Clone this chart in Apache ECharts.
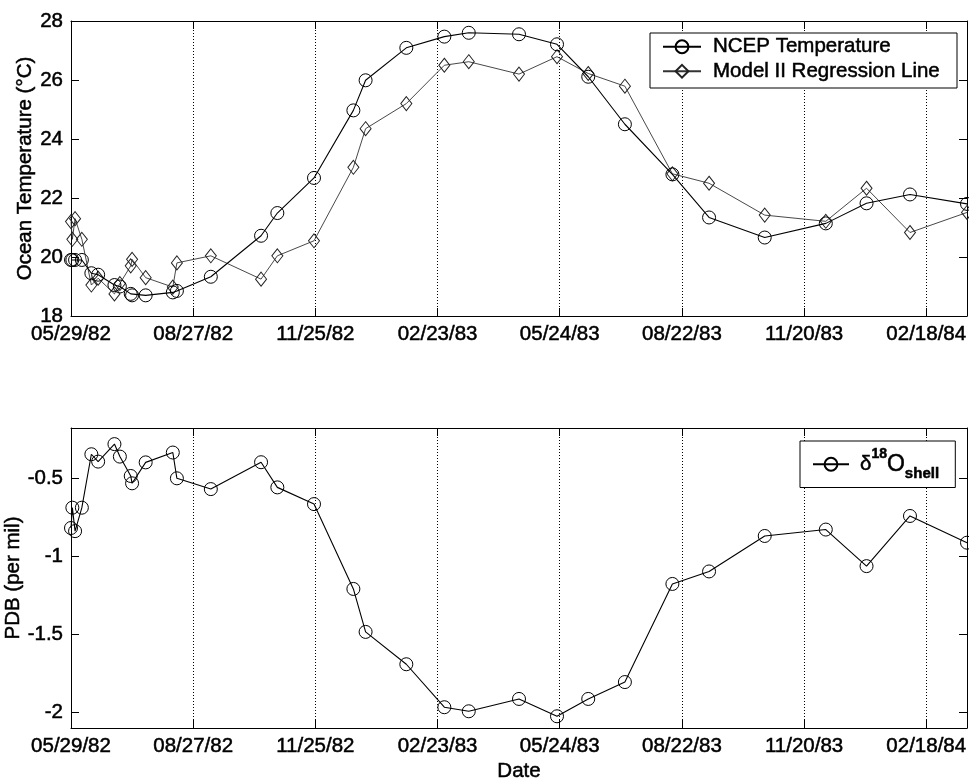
<!DOCTYPE html>
<html>
<head>
<meta charset="utf-8">
<title>Ocean temperature and shell δ18O</title>
<script src="https://cdn.jsdelivr.net/npm/echarts@6/dist/echarts.min.js"></script>
<style>
  html, body { margin: 0; padding: 0; background: #fff; }
  #chart { width: 969px; height: 783px; }
</style>
</head>
<body>
<div id="chart"></div>
<script>
// Sample dates, in days after 05/29/82
const sampleDay = [0, 1, 3, 8, 15, 20, 32, 36, 44, 45, 55, 75, 78, 103, 140, 152, 179,
  208, 217, 247, 275, 293, 330, 358, 381, 408, 443, 470, 511, 556, 586, 618, 660];

// NCEP sea surface temperature (°C) at each sample date
const ncepTemp = [19.9, 19.9, 19.9, 19.9, 19.45, 19.4, 19.05, 19.0, 18.75, 18.7, 18.7, 18.8, 18.85,
  19.33, 20.72, 21.49, 22.68, 24.97, 25.99, 27.09, 27.47, 27.6, 27.55, 27.21, 26.11, 24.5,
  22.8, 21.34, 20.66, 21.14, 21.82, 22.12, 21.8];

// Temperature from the Model II regression on shell δ18O (°C)
const modelTemp = [21.2, 20.6, 21.3, 20.6, 19.05, 19.28, 18.75, 19.1, 19.7, 19.92, 19.3, 18.98, 19.8,
  20.04, 19.25, 20.04, 20.55, 23.04, 24.35, 25.2, 26.5, 26.62, 26.2, 26.79, 26.22, 25.79,
  22.82, 22.5, 21.42, 21.21, 22.33, 20.83, 21.51];

// Shell δ18O (per mil, PDB)
const shellD18O = [-0.82, -0.69, -0.84, -0.69, -0.348, -0.395, -0.283, -0.363, -0.487, -0.534, -0.40,
  -0.337, -0.502, -0.571, -0.399, -0.56, -0.667, -1.21, -1.485, -1.692, -1.967, -1.993, -1.914,
  -2.025, -1.914, -1.806, -1.178, -1.098, -0.871, -0.83, -1.064, -0.743, -0.914];

// Date axis ticks (days after 05/29/82) and their labels
const dateTickDays = [0, 90, 180, 270, 360, 450, 540, 630];
const dateTickLabels = ['05/29/82', '08/27/82', '11/25/82', '02/23/83', '05/24/83', '08/22/83', '11/20/83', '02/18/84'];

// Value axis ticks
const tempTicks = [18, 20, 22, 24, 26, 28];
const pdbTicks = [-2, -1.5, -1, -0.5];

const FONT = "'Liberation Sans', Arial, Helvetica, sans-serif";
const FS = 20.5;
const INK = '#000';
// a thin outline in the text colour gives the slightly heavy print look
const HEAVY = { textBorderColor: INK, textBorderWidth: 0.5 };

const chart = echarts.init(document.getElementById('chart'), null, { renderer: 'canvas' });

function textStyle(extra) {
  return Object.assign({ color: INK, fontSize: FS, fontFamily: FONT }, HEAVY, extra || {});
}

function dateAxis(gridIndex, position, withLabels, name) {
  return {
    type: 'value',
    gridIndex: gridIndex,
    position: position,
    min: 0,
    max: 660,
    interval: 90,
    name: name || '',
    nameLocation: 'middle',
    nameGap: 33,
    nameMoveOverlap: false,
    nameTextStyle: textStyle(),
    axisLine: { show: true, onZero: false, lineStyle: { color: INK, width: 1 } },
    axisTick: { show: true, inside: true, length: 8, customValues: dateTickDays, lineStyle: { color: INK, width: 1 } },
    axisLabel: Object.assign(textStyle(), {
      show: withLabels,
      customValues: dateTickDays,
      margin: 8,
      formatter: function (v) {
        const i = dateTickDays.indexOf(v);
        return i >= 0 ? dateTickLabels[i] : '';
      }
    }),
    splitLine: {
      show: position === 'bottom',
      lineStyle: { color: INK, width: 1, type: [1, 2] }
    }
  };
}

function valueAxis(gridIndex, position, min, max, ticks, withLabels, name, nameGap) {
  return {
    type: 'value',
    gridIndex: gridIndex,
    position: position,
    min: min,
    max: max,
    name: name || '',
    nameLocation: 'middle',
    nameGap: nameGap || 0,
    nameMoveOverlap: false,
    nameTextStyle: textStyle(),
    axisLine: { show: true, onZero: false, lineStyle: { color: INK, width: 1 } },
    axisTick: { show: true, inside: true, length: 8, customValues: ticks, lineStyle: { color: INK, width: 1 } },
    axisLabel: Object.assign(textStyle(), {
      show: withLabels,
      customValues: ticks,
      margin: 8,
      formatter: function (v) { return String(v); }
    }),
    splitLine: { show: false }
  };
}

function pairs(ys) {
  return sampleDay.map(function (d, i) { return [d, ys[i]]; });
}

const option = {
  backgroundColor: '#fff',
  animation: false,
  textStyle: { fontFamily: FONT, color: INK },
  grid: [
    { left: 71, right: 2, top: 21, height: 295, containLabel: false, outerBoundsMode: 'none' },
    { left: 71, right: 2, top: 428, height: 300, containLabel: false, outerBoundsMode: 'none' }
  ],
  xAxis: [
    dateAxis(0, 'bottom', true),
    dateAxis(0, 'top', false),
    dateAxis(1, 'bottom', true, 'Date'),
    dateAxis(1, 'top', false)
  ],
  yAxis: [
    valueAxis(0, 'left', 18, 28, tempTicks, true, 'Ocean Temperature (°C)', 35),
    valueAxis(0, 'right', 18, 28, tempTicks, false),
    valueAxis(1, 'left', -2.1, -0.18, pdbTicks, true, 'PDB (per mil)', 47),
    valueAxis(1, 'right', -2.1, -0.18, pdbTicks, false)
  ],
  legend: [
    {
      data: ['NCEP Temperature', 'Model II Regression Line'],
      orient: 'vertical',
      left: 650,
      top: 33,
      itemWidth: 38,
      itemHeight: 16,
      itemGap: 3,
      padding: [3, 17, 6, 12],
      backgroundColor: '#fff',
      borderColor: INK,
      borderWidth: 1,
      borderRadius: 0,
      selectedMode: false,
      formatter: function (name) { return '{t|' + name + '}'; },
      textStyle: {
        color: INK,
        rich: { t: textStyle({ lineHeight: 24, padding: [0, 0, 0, 7] }) }
      }
    },
    {
      data: ['δ18O shell'],
      orient: 'vertical',
      left: 800,
      top: 441,
      itemWidth: 36,
      itemHeight: 16,
      padding: [6, 16, 6, 12],
      backgroundColor: '#fff',
      borderColor: INK,
      borderWidth: 1,
      borderRadius: 0,
      selectedMode: false,
      formatter: function () { return '{d|δ}{s|18}{o|O}{b|shell}'; },
      textStyle: {
        color: INK,
        rich: {
          d: textStyle({ lineHeight: 34, padding: [0, 0, 0, 6] }),
          s: textStyle({ fontSize: 14, fontWeight: 'bold', verticalAlign: 'top', lineHeight: 16 }),
          o: textStyle({ fontSize: 23, lineHeight: 34 }),
          b: textStyle({ fontSize: 15, fontWeight: 'bold', verticalAlign: 'bottom', lineHeight: 17 })
        }
      }
    }
  ],
  series: [
    {
      name: 'NCEP Temperature',
      type: 'line',
      xAxisIndex: 0,
      yAxisIndex: 0,
      data: pairs(ncepTemp),
      symbol: 'circle',
      symbolSize: 13,
      showAllSymbol: true,
      lineStyle: { color: INK, width: 1.1 },
      itemStyle: { color: 'transparent', borderColor: INK, borderWidth: 1 },
      z: 3
    },
    {
      name: 'Model II Regression Line',
      type: 'line',
      xAxisIndex: 0,
      yAxisIndex: 0,
      data: pairs(modelTemp),
      symbol: 'diamond',
      symbolSize: [11, 14],
      showAllSymbol: true,
      lineStyle: { color: '#333', width: 0.9 },
      itemStyle: { color: 'transparent', borderColor: '#222', borderWidth: 1 },
      z: 2
    },
    {
      name: 'δ18O shell',
      type: 'line',
      xAxisIndex: 2,
      yAxisIndex: 2,
      data: pairs(shellD18O),
      symbol: 'circle',
      symbolSize: 13,
      showAllSymbol: true,
      lineStyle: { color: INK, width: 1.1 },
      itemStyle: { color: 'transparent', borderColor: INK, borderWidth: 1 },
      z: 3
    }
  ]
};

chart.setOption(option);
</script>
</body>
</html>
